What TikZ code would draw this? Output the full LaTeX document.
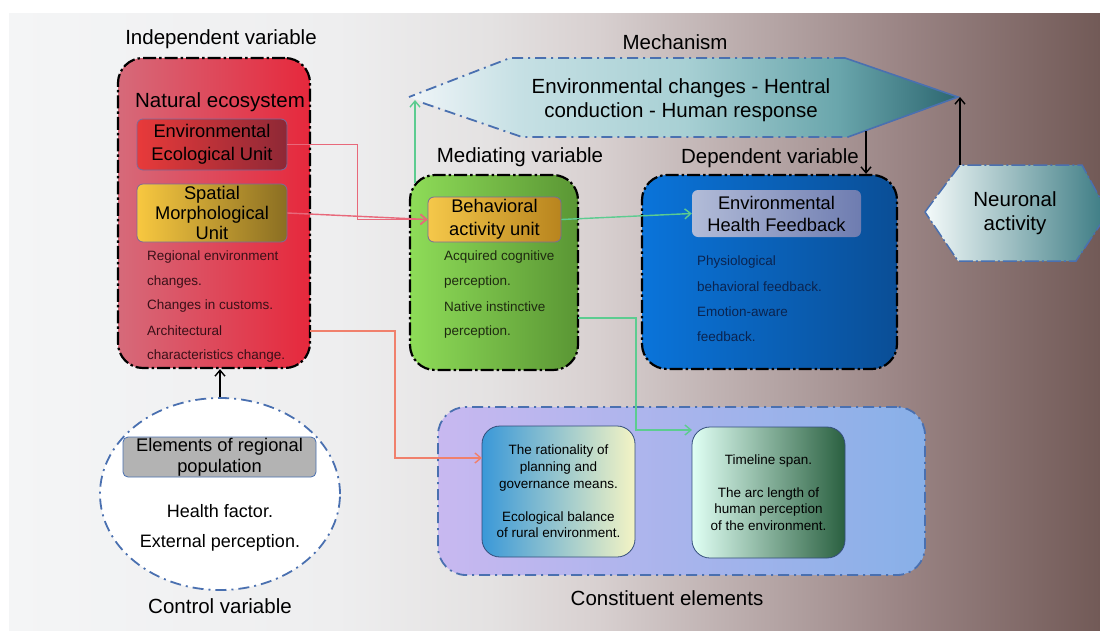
\documentclass[tikz,border=0pt]{standalone}
\usepackage{fontspec}
\setmainfont{Liberation Sans}
\usetikzlibrary{shapes.geometric,arrows.meta}
\definecolor{bgA}{HTML}{F4F5F6}
\definecolor{bgB}{HTML}{EEEEEF}
\definecolor{bgC}{HTML}{E4E2E2}
\definecolor{bgD}{HTML}{D8D0D0}
\definecolor{bgE}{HTML}{9A8484}
\definecolor{bgF}{HTML}{725A57}
\definecolor{mA}{HTML}{F0F5F8}
\definecolor{mB}{HTML}{C6E0E4}
\definecolor{mC}{HTML}{A8D0D4}
\definecolor{mD}{HTML}{6AA6AC}
\definecolor{mE}{HTML}{2C6670}
\definecolor{dashblue}{HTML}{4A70B0}
\definecolor{redA}{HTML}{D66A7A}
\definecolor{redB}{HTML}{E6283C}
\definecolor{eeuA}{HTML}{E83A3A}
\definecolor{eeuB}{HTML}{8E2836}
\definecolor{smuA}{HTML}{F8C840}
\definecolor{smuB}{HTML}{8A6E22}
\definecolor{unitborder}{HTML}{7A6A9A}
\definecolor{grA}{HTML}{8EDC58}
\definecolor{grB}{HTML}{5A9634}
\definecolor{behA}{HTML}{F5C84A}
\definecolor{behB}{HTML}{B8841E}
\definecolor{blA}{HTML}{0A74DA}
\definecolor{blB}{HTML}{0A4E96}
\definecolor{ehfA}{HTML}{B2BCD8}
\definecolor{ehfB}{HTML}{6E7CB0}
\definecolor{nA}{HTML}{F4FAFA}
\definecolor{nB}{HTML}{A8D4D4}
\definecolor{nC}{HTML}{3A7A82}
\definecolor{coA}{HTML}{C8B8F0}
\definecolor{coB}{HTML}{88B0E8}
\definecolor{i1A}{HTML}{3A98D8}
\definecolor{i1B}{HTML}{F4F4C4}
\definecolor{i2A}{HTML}{E0FFF4}
\definecolor{i2B}{HTML}{2A6040}
\definecolor{graybox}{HTML}{B3B3B3}
\definecolor{redline}{HTML}{E8687A}
\definecolor{salline}{HTML}{F0806C}
\definecolor{grnline}{HTML}{5CCC90}
\definecolor{redtext}{HTML}{3A1018}
\definecolor{greentext}{HTML}{1E2A10}
\definecolor{bluetext}{HTML}{0A2450}
\pgfdeclarehorizontalshading{bgshade}{100bp}{color(0bp)=(bgA); color(25bp)=(bgA); color(40bp)=(bgB); color(47bp)=(bgC); color(52bp)=(bgD); color(66bp)=(bgE); color(75bp)=(bgF); color(100bp)=(bgF)}
\pgfdeclarehorizontalshading{mechshade}{100bp}{color(0bp)=(mA); color(25bp)=(mA); color(35bp)=(mB); color(50bp)=(mC); color(64bp)=(mD); color(75bp)=(mE); color(100bp)=(mE)}
\tikzset{
  title/.style={font=\fontsize{20.5}{24}\selectfont, inner sep=0pt},
  unitfont/.style={font=\fontsize{18.3}{22}\selectfont},
  smalltxt/.style={font=\fontsize{13.5}{16}\selectfont, inner sep=0pt, anchor=west},
  bigbox/.style={draw=black, line width=2.2pt, dash pattern=on 13pt off 3pt on 2.5pt off 3pt, rounded corners=25pt, inner sep=0pt},
  bluedash/.style={draw=dashblue, line width=1.8pt, dash pattern=on 11pt off 5pt on 2pt off 5pt},
  unitbox/.style={rounded corners=6pt, draw=unitborder, line width=0.8pt, inner sep=0pt, align=center, unitfont},
  innerbox/.style={rounded corners=18pt, draw=dashblue!70!black, line width=0.8pt, inner sep=0pt, align=center, font=\fontsize{13.5}{16.6}\selectfont},
  arr/.style={-{Straight Barb[length=6pt,width=10pt]}, line width=1.4pt},
}
\begin{document}
\begin{tikzpicture}[x=1pt,y=-1pt]
\useasboundingbox (0,0) rectangle (1100,630);
% background
\fill[white] (0,0) rectangle (1100,630);
\shade[shading=bgshade] (9,13) rectangle (1100,630);

% ---------- Independent variable ----------
\node[title] (indeplab) at (221,39) {Independent variable};
\node[bigbox, left color=redA, right color=redB, minimum width=192pt, minimum height=310pt] (indep) at (214,213) {};
\node[title] (natlab) at (220,102) {Natural ecosystem};
\node[unitbox, left color=eeuA, right color=eeuB, minimum width=150pt, minimum height=51pt, font=\fontsize{18.3}{22.5}\selectfont] (eeu) at (212,144.5) {Environmental\\Ecological Unit};
\node[unitbox, left color=smuA, right color=smuB, minimum width=150pt, minimum height=58pt, font=\fontsize{18.3}{20}\selectfont] (smu) at (212,213) {Spatial\\Morphological\\Unit};
\node[smalltxt, text=redtext] (r1) at (147,257) {Regional environment};
\node[smalltxt, text=redtext] (r2) at (147,282) {changes.};
\node[smalltxt, text=redtext] (r3) at (147,306) {Changes in customs.};
\node[smalltxt, text=redtext] (r4) at (147,331) {Architectural};
\node[smalltxt, text=redtext] (r5) at (147,356) {characteristics change.};

% ---------- Control variable ----------
\node[ellipse, fill=white, bluedash, minimum width=240pt, minimum height=192pt, inner sep=0pt] (ctrl) at (220,494) {};
\node[rounded corners=5pt, fill=graybox, draw=dashblue, line width=0.8pt, minimum width=193pt, minimum height=40pt, inner sep=0pt, align=center, font=\fontsize{18.3}{21}\selectfont] (elem) at (219.5,457) {Elements of regional\\population};
\node[font=\fontsize{18}{21}\selectfont, inner sep=0pt] (hf) at (220,511) {Health factor.};
\node[font=\fontsize{18}{21}\selectfont, inner sep=0pt] (ep) at (220,543) {External perception.};
\node[title] (ctrllab) at (220,606) {Control variable};
\draw[arr, black] (ctrl.north) -- (ctrl.north |- indep.south);

% ---------- Mechanism ----------
\node[title] (mechlab) at (675,42) {Mechanism};
\coordinate (mL) at (409,97);
\coordinate (mTL) at (510,58);
\coordinate (mTR) at (845,58);
\coordinate (mR) at (958,97);
\coordinate (mBR) at (848,137);
\coordinate (mBL) at (522,137);
\shade[shading=mechshade] (mL) -- (mTL) -- (mTR) -- (mR) -- (mBR) -- (mBL) -- cycle;
\draw[bluedash] (mTR) -- (mTL) -- (mL);
\draw[bluedash] (mL) ++(14,6) -- (mBL) -- (mBR);
\draw[dashblue, line width=1.6pt] (mTR) -- (mR) -- (mBR);
\node[font=\fontsize{20.5}{24}\selectfont, align=center, inner sep=0pt] (mechtxt) at (681,100) {Environmental changes - Hentral\\conduction - Human response};

% ---------- Mediating variable ----------
\node[title] (medlab) at (520,157) {Mediating variable};
\node[bigbox, left color=grA, right color=grB, minimum width=168pt, minimum height=195pt] (med) at (494,272.5) {};
\node[unitbox, left color=behA, right color=behB, minimum width=133pt, minimum height=45pt, font=\fontsize{18.3}{23}\selectfont] (beh) at (494.5,219.5) {Behavioral\\activity unit};
\node[smalltxt, text=greentext] (g1) at (444,257) {Acquired cognitive};
\node[smalltxt, text=greentext] (g2) at (444,282) {perception.};
\node[smalltxt, text=greentext] (g3) at (444,307) {Native instinctive};
\node[smalltxt, text=greentext] (g4) at (444,332) {perception.};

% ---------- Dependent variable ----------
\node[title] (deplab) at (770,158) {Dependent variable};
\node[bigbox, left color=blA, right color=blB, minimum width=255pt, minimum height=194pt] (dep) at (769.5,272) {};
\node[rounded corners=6pt, left color=ehfA, right color=ehfB, minimum width=169pt, minimum height=47pt, inner sep=0pt, align=center, font=\fontsize{18.3}{22}\selectfont] (ehf) at (776.5,213.5) {Environmental\\Health Feedback};
\node[smalltxt, text=bluetext] (b1) at (697,262) {Physiological};
\node[smalltxt, text=bluetext] (b2) at (697,287) {behavioral feedback.};
\node[smalltxt, text=bluetext] (b3) at (697,312) {Emotion-aware};
\node[smalltxt, text=bluetext] (b4) at (697,337) {feedback.};

% ---------- Neuronal activity ----------
\coordinate (nL) at (925,212);
\coordinate (nT) at (960,165);
\coordinate (nTR) at (1082,165);
\coordinate (nR) at (1108,213);
\coordinate (nBR) at (1076,261);
\coordinate (nBL) at (958,261);
\shade[left color=nA, middle color=nB, right color=nC] (nL) -- (nT) -- (nTR) -- (nR) -- (nBR) -- (nBL) -- cycle;
\draw[dashblue, line width=1.5pt, dash pattern=on 14pt off 3pt on 2pt off 3pt] (nL) -- (nT) -- (nTR) -- (nR) -- (nBR) -- (nBL) -- cycle;
\node[font=\fontsize{20.5}{24}\selectfont, align=center, inner sep=0pt] (neur) at (1015,213) {Neuronal\\activity};

% ---------- Constituent elements ----------
\node[bigbox, bluedash, rounded corners=28pt, left color=coA, right color=coB, minimum width=487pt, minimum height=168pt] (cons) at (681.5,491) {};
\node[innerbox, left color=i1A, right color=i1B, minimum width=153pt, minimum height=131pt] (in1) at (558.5,491.5) {The rationality of\\planning and\\governance means.\\[16.6pt]Ecological balance\\of rural environment.};
\node[innerbox, left color=i2A, right color=i2B, minimum width=153pt, minimum height=131pt] (in2) at (768.5,492.5) {Timeline span.\\[16.6pt]The arc length of\\human perception\\of the environment.};
\node[title] (conslab) at (667,598) {Constituent elements};

% ---------- Connectors ----------
\draw[arr, redline] (eeu.east) -- ++(70,0) |- (beh.west);
\draw[arr, redline] (smu.east) -- (beh.west);
\coordinate (sal0) at (310,331);
\coordinate (sal1) at (482,458);
\draw[arr, salline] (sal0) -- (395,331) |- (sal1);
\coordinate (gr0) at (578,318);
\coordinate (gr1) at (692,430);
\draw[arr, grnline] (gr0) -| (636,430) -- (gr1);
\draw[arr, grnline] (beh.east) -- (ehf.west);
\coordinate (gup0) at (415,183);
\coordinate (gup1) at (415,100);
\draw[arr, grnline] (gup0) -- (gup1);
\draw[arr, black] (nT) -- (nT |- mR);
\coordinate (mArr) at (866,131);
\draw[arr, black] (mArr) -- (mArr |- dep.north);
\end{tikzpicture}
\end{document}
